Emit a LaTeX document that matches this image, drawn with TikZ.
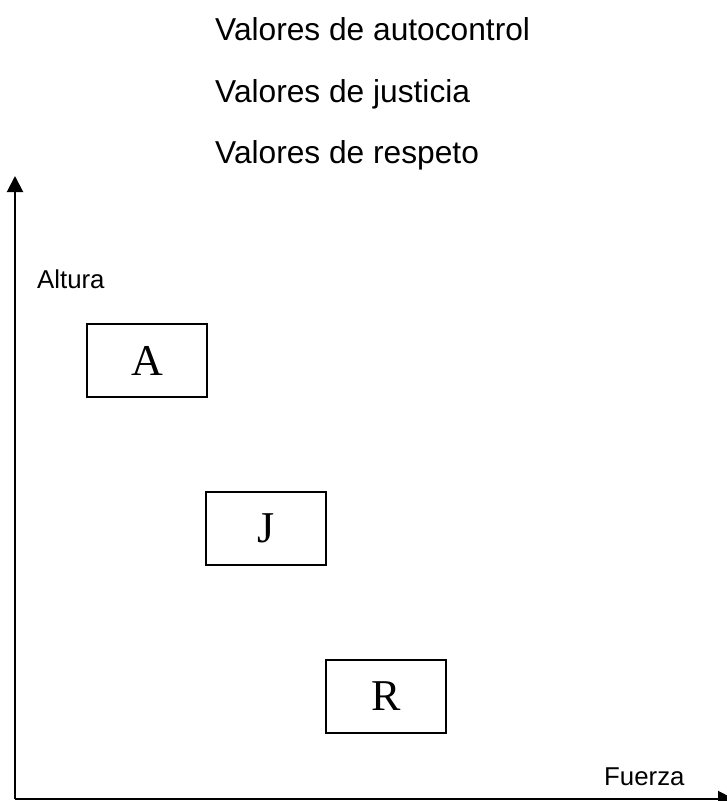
\documentclass[tikz,border=0pt]{standalone}
\usepackage{fontspec}
\setmainfont{Liberation Sans}
\newfontfamily\boxfont{Liberation Serif}
\usetikzlibrary{arrows.meta,positioning}

\tikzset{
  valbox/.style={draw,line width=1.5pt,minimum width=120pt,minimum height=73pt,inner sep=0pt,font=\boxfont\fontsize{44}{44}\selectfont},
  toplabel/.style={anchor=base west,inner sep=0pt,font=\fontsize{31.7}{36}\selectfont},
  axislabel/.style={anchor=base west,inner sep=0pt,font=\fontsize{25.8}{30}\selectfont},
  axis/.style={line width=2pt,-{Triangle[width=16pt,length=16pt]}}
}

\begin{document}
\begin{tikzpicture}[x=1pt,y=-1pt]
	\useasboundingbox (0,0) rectangle (726,801);
	% leyenda
	\node[toplabel] (auto) at (215,40) {Valores de autocontrol};
	\node[toplabel] (just) at (215,102) {Valores de justicia};
	\node[toplabel] (resp) at (215,163) {Valores de respeto};
	% ejes
	\coordinate (origen) at (15,799);
	\coordinate (ytop) at (15,176);
	\coordinate (xend) at (734,799);
	\draw[axis] (origen) -- (ytop);
	\draw[axis] (origen) -- (xend);
	\node[axislabel] (altura) at (37,288) {Altura};
	\node[axislabel] (fuerza) at (604,785) {Fuerza};
	% cajas
	\node[valbox] (A) at (147,360.5) {A};
	\node[valbox] (J) at (266,528.5) {J};
	\node[valbox] (R) at (386,696.5) {R};
\end{tikzpicture}
\end{document}
